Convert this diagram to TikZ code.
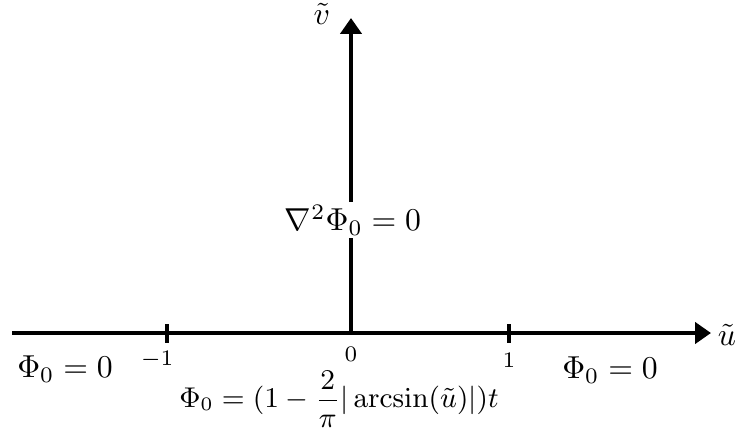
\documentclass[tikz,border=0pt]{standalone}
\usepackage{amsmath}
\usetikzlibrary{arrows.meta}
\begin{document}
\begin{tikzpicture}[x=0.315pt,y=-0.315pt,
  axis/.style={line width=1.4pt,-{Triangle[length=5pt,width=6.6pt]}},
  tick/.style={line width=1.4pt},
  ticklabel/.style={font=\scriptsize,inner sep=0pt},
  lbl/.style={inner sep=1pt}]
\useasboundingbox (0,0) rectangle (737,434);
\coordinate (xs) at (12,333);
\coordinate (xe) at (711,333);
\coordinate (o) at (351,333);
\coordinate (ye) at (351,18);
\draw[axis] (xs) -- (xe);
\draw[axis] (o) -- (ye);
\node[lbl,anchor=west] (ul) at (714,335) {$\tilde{u}$};
\node[lbl] (vl) at (322,14) {$\tilde{v}$};
\coordinate (t1a) at (167,324); \coordinate (t1b) at (167,343);
\coordinate (t2a) at (509,324); \coordinate (t2b) at (509,343);
\draw[tick] (t1a) -- (t1b);
\draw[tick] (t2a) -- (t2b);
\node[ticklabel] (m1) at (157,360) {$-1$};
\node[ticklabel] (z0) at (351,354) {$0$};
\node[ticklabel] (p1) at (509,360) {$1$};
\node[lbl,fill=white] (lap) at (353,220) {$\nabla^2\Phi_0 = 0$};
\node[lbl] (left) at (65,369) {$\Phi_0 = 0$};
\node[lbl] (right) at (610,370) {$\Phi_0 = 0$};
\node[inner sep=0pt,font=\small] (mid) at (339,399) {$\Phi_0 = (1-\dfrac{2}{\pi}|\arcsin(\tilde{u})|)t$};
\end{tikzpicture}
\end{document}
